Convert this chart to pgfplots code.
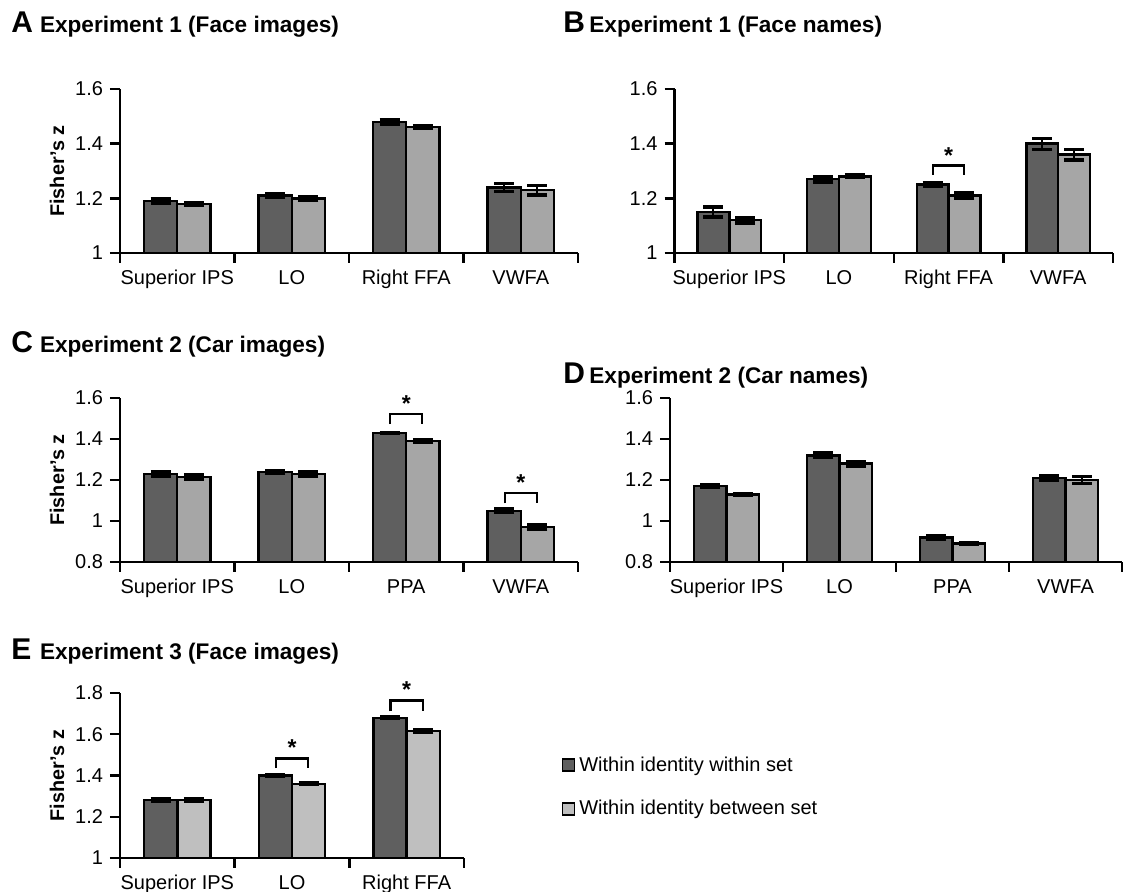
\documentclass[border=0pt]{standalone}
\usepackage{fontspec}
\setmainfont{Liberation Sans}
\usepackage{pgfplots}
\pgfplotsset{compat=1.18}
\definecolor{darkbar}{HTML}{5F5F5F}
\definecolor{lightbar}{HTML}{A6A6A6}
\definecolor{lightE}{HTML}{BFBFBF}
\newcommand{\tickfont}{\fontsize{10}{12}\selectfont}
\pgfplotsset{
  panel/.style={
    scale only axis, height=82pt,
    ybar, bar width=0.29,
    axis x line*=bottom, axis y line*=left,
    axis line style={line width=1.2pt,-},
    xmin=-0.5,
    xtick={0,1,2,3},
    every major x tick/.style={draw=none},
    minor xtick={-0.5,0.5,1.5,2.5,3.5},
    minor tick length=5pt, major tick length=5pt,
    tick align=outside,
    tick style={black,line width=1.2pt},
    ticklabel style={font=\tickfont},
    xticklabel style={text height=7.2pt, text depth=2pt},
    /pgf/number format/assume math mode=true,
    clip mode=individual,
    axis on top,
    ylabel style={at={(axis description cs:0,0.5)}, yshift=31.5pt, anchor=center, font=\bfseries\fontsize{9.9}{11}\selectfont},
    error bars/y dir=both, error bars/y explicit,
    error bars/error bar style={line width=1pt,black},
    error bars/error mark options={rotate=90,line width=1.6pt,mark size=5pt,black},
  },
  dk/.style={fill=darkbar,draw=black,line width=1.2pt,bar shift=-0.145},
  lt/.style={fill=lightbar,draw=black,line width=1.2pt,bar shift=0.145},
}
\newcommand{\bracket}[4]{% x, top, low, star
  \draw[line width=1.2pt] (axis cs:#1-0.14,#3) -- (axis cs:#1-0.14,#2) -- (axis cs:#1+0.14,#2) -- (axis cs:#1+0.14,#3);
  \node[anchor=base,inner sep=0pt,font=\bfseries\fontsize{11.5}{12}\selectfont] at (axis cs:#1,#4) {*};}
\begin{document}
\begin{tikzpicture}
\path[use as bounding box] (0,0) rectangle (562.5pt,446pt);
% titles
\tikzset{lett/.style={anchor=base west,inner sep=0pt,font=\bfseries\fontsize{15}{16}\selectfont},
         ttl/.style={anchor=base west,inner sep=0pt,font=\bfseries\fontsize{11.3}{13}\selectfont}}
\node[lett] at (5.5pt,429.5pt) {A};
\node[ttl] at (19.8pt,429.5pt) {Experiment 1 (Face images)};
\node[lett] at (281.5pt,429.5pt) {B};
\node[ttl] at (294.5pt,429.5pt) {Experiment 1 (Face names)};
\node[lett] at (5.5pt,269.5pt) {C};
\node[ttl] at (19.8pt,269.5pt) {Experiment 2 (Car images)};
\node[lett] at (281.5pt,254pt) {D};
\node[ttl] at (294.5pt,254pt) {Experiment 2 (Car names)};
\node[lett] at (5.5pt,116pt) {E};
\node[ttl] at (19.8pt,116pt) {Experiment 3 (Face images)};

% ---------- A
\begin{axis}[panel, at={(60pt,319.5pt)}, anchor=south west, width=229pt,
  xmax=3.5, ymin=1, ymax=1.6, ytick={1,1.2,1.4,1.6},
  xticklabels={Superior IPS,LO,Right FFA,VWFA}, ylabel={Fisher’s z}]
\addplot[dk] coordinates {(0,1.19) +- (0,0.01) (1,1.21) +- (0,0.007) (2,1.48) +- (0,0.008) (3,1.24) +- (0,0.014)};
\addplot[lt] coordinates {(0,1.18) +- (0,0.005) (1,1.20) +- (0,0.006) (2,1.46) +- (0,0.005) (3,1.23) +- (0,0.018)};
\end{axis}

% ---------- B
\begin{axis}[panel, at={(337.25pt,319.5pt)}, anchor=south west, width=219.25pt,
  xmax=3.5, ymin=1, ymax=1.6, ytick={1,1.2,1.4,1.6},
  xticklabels={Superior IPS,LO,Right FFA,VWFA}]
\addplot[dk] coordinates {(0,1.15) +- (0,0.018) (1,1.27) +- (0,0.01) (2,1.25) +- (0,0.008) (3,1.40) +- (0,0.02)};
\addplot[lt] coordinates {(0,1.12) +- (0,0.01) (1,1.28) +- (0,0.005) (2,1.21) +- (0,0.01) (3,1.36) +- (0,0.02)};
\bracket{2}{1.32}{1.287}{1.328}
\end{axis}

% ---------- C
\begin{axis}[panel, at={(60pt,165pt)}, anchor=south west, width=229pt,
  xmax=3.5, ymin=0.8, ymax=1.6, ytick={0.8,1,1.2,1.4,1.6},
  xticklabels={Superior IPS,LO,PPA,VWFA}, ylabel={Fisher’s z}]
\addplot[dk] coordinates {(0,1.23) +- (0,0.012) (1,1.24) +- (0,0.007) (2,1.43) +- (0,0.003) (3,1.05) +- (0,0.01)};
\addplot[lt] coordinates {(0,1.215) +- (0,0.012) (1,1.228) +- (0,0.012) (2,1.39) +- (0,0.005) (3,0.97) +- (0,0.01)};
\bracket{2}{1.523}{1.473}{1.535}
\bracket{3}{1.138}{1.086}{1.15}
\end{axis}

% ---------- D
\begin{axis}[panel, at={(335pt,165pt)}, anchor=south west, width=226pt,
  xmax=3.5, ymin=0.8, ymax=1.6, ytick={0.8,1,1.2,1.4,1.6},
  xticklabels={Superior IPS,LO,PPA,VWFA}]
\addplot[dk] coordinates {(0,1.17) +- (0,0.006) (1,1.32) +- (0,0.012) (2,0.92) +- (0,0.01) (3,1.21) +- (0,0.012)};
\addplot[lt] coordinates {(0,1.13) +- (0,0.006) (1,1.28) +- (0,0.012) (2,0.89) +- (0,0.005) (3,1.20) +- (0,0.018)};
\end{axis}

% ---------- E
\begin{axis}[panel, at={(60pt,17pt)}, anchor=south west, width=172pt, height=82.5pt,
  xmax=2.5, ymin=1, ymax=1.8, ytick={1,1.2,1.4,1.6,1.8},
  minor xtick={-0.5,0.5,1.5,2.5},
  xticklabels={Superior IPS,LO,Right FFA}, ylabel={Fisher’s z},
  legend style={at={(axis description cs:1.283,0.43)}, anchor=west, draw=none, fill=none,
    font=\tickfont, row sep=9pt, inner sep=0pt},
  legend cell align=left,
  legend image code/.code={\draw[draw=black,line width=0.8pt,#1] (0pt,-3pt) rectangle (6pt,3pt);}]
\addplot[dk] coordinates {(0,1.28) +- (0,0.008) (1,1.40) +- (0,0.003) (2,1.68) +- (0,0.004)};
\addplot[lt,fill=lightE] coordinates {(0,1.28) +- (0,0.008) (1,1.36) +- (0,0.005) (2,1.615) +- (0,0.006)};
\legend{Within identity within set,Within identity between set}
\bracket{1}{1.482}{1.436}{1.495}
\bracket{2}{1.763}{1.711}{1.776}
\end{axis}
\end{tikzpicture}
\end{document}
